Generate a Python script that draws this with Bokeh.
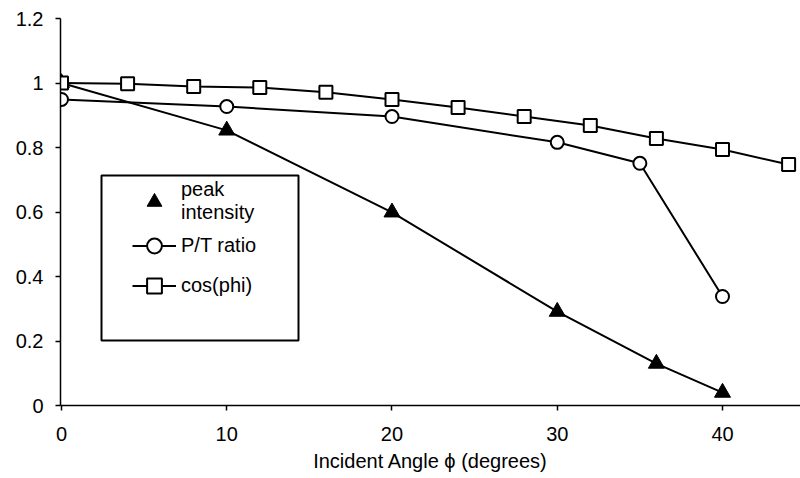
from bokeh.plotting import figure
from bokeh.models import Range1d, FixedTicker, Legend, LegendItem, BoxAnnotation
from bokeh.embed import file_html
from bokeh.resources import INLINE

# data
peak_x = [0, 10, 20, 30, 36, 40]
peak_y = [1.0, 0.853, 0.599, 0.291, 0.130, 0.040]

pt_x = [0, 10, 20, 30, 35, 40]
pt_y = [0.949, 0.927, 0.896, 0.816, 0.751, 0.338]

cos_x = [0, 4, 8, 12, 16, 20, 24, 28, 32, 36, 40, 44]
cos_y = [1.0, 0.998, 0.989, 0.986, 0.971, 0.949, 0.924, 0.896, 0.868, 0.828, 0.794, 0.747]

x_ticks = [0, 10, 20, 30, 40]
y_ticks = [0, 0.2, 0.4, 0.6, 0.8, 1, 1.2]
y_tick_labels = ["0", "0.2", "0.4", "0.6", "0.8", "1", "1.2"]

FONT = "Liberation Sans"

p = figure(width=800, height=478, output_backend="svg", toolbar_location=None,
           x_range=Range1d(-0.06, 44.72), y_range=Range1d(0, 1.2),
           min_border_left=60, min_border_top=18, min_border_bottom=73,
           min_border_right=0)
p.outline_line_color = None
p.xgrid.visible = False
p.ygrid.visible = False
p.background_fill_color = "white"
p.border_fill_color = "white"

for ax in (p.xaxis[0], p.yaxis[0]):
    ax.axis_line_color = "black"
    ax.axis_line_width = 1.5
    ax.major_tick_line_color = "black"
    ax.major_tick_line_width = 1.5
    ax.major_tick_in = 0
    ax.major_tick_out = 5
    ax.minor_tick_line_color = None
    ax.major_label_text_font = FONT
    ax.major_label_text_font_size = "20px"
    ax.major_label_text_color = "black"

p.xaxis.ticker = FixedTicker(ticks=x_ticks)
p.xaxis.major_label_standoff = 16
p.yaxis.ticker = FixedTicker(ticks=y_ticks)
p.yaxis.major_label_overrides = {t: s for t, s in zip(y_ticks, y_tick_labels)}
p.yaxis.major_label_standoff = 12

p.xaxis.axis_label = "Incident Angle \u03d5 (degrees)"
p.xaxis.axis_label_text_font = FONT
p.xaxis.axis_label_text_font_size = "20px"
p.xaxis.axis_label_text_font_style = "normal"
p.xaxis.axis_label_text_color = "black"
p.xaxis.axis_label_standoff = 6

# peak intensity
p.line(peak_x, peak_y, line_color="black", line_width=2)
r_peak = p.scatter(peak_x, peak_y, marker="triangle", size=16,
                   fill_color="black", line_color="black")

# P/T ratio
r_pt_line = p.line(pt_x, pt_y, line_color="black", line_width=2)
r_pt = p.scatter(pt_x, pt_y, marker="circle", size=13,
                 fill_color="white", line_color="black", line_width=2)

# cos(phi)
r_cos_line = p.line(cos_x, cos_y, line_color="black", line_width=2)
r_cos = p.scatter(cos_x, cos_y, marker="square", size=13,
                  fill_color="white", line_color="black", line_width=2)

# legend frame (canvas pixels)
frame = BoxAnnotation(left=101, right=298, top=175, bottom=340,
                      left_units="canvas", right_units="canvas",
                      top_units="canvas", bottom_units="canvas",
                      fill_color="white", fill_alpha=1,
                      line_color="black", line_alpha=1, line_width=2,
                      level="overlay")
p.add_layout(frame)

legend = Legend(items=[
    LegendItem(label="peak\nintensity", renderers=[r_peak]),
    LegendItem(label="P/T ratio", renderers=[r_pt_line, r_pt]),
    LegendItem(label="cos(phi)", renderers=[r_cos_line, r_cos]),
], location=(72, 101))
legend.label_text_font = FONT
legend.label_text_font_size = "20px"
legend.label_text_color = "black"
legend.glyph_width = 44
legend.glyph_height = 37
legend.label_height = 32
legend.label_standoff = 5
legend.spacing = 3
legend.padding = 0
legend.border_line_color = None
legend.background_fill_alpha = 0
p.add_layout(legend, "center")

open("out.html", "w").write(file_html(p, INLINE))
